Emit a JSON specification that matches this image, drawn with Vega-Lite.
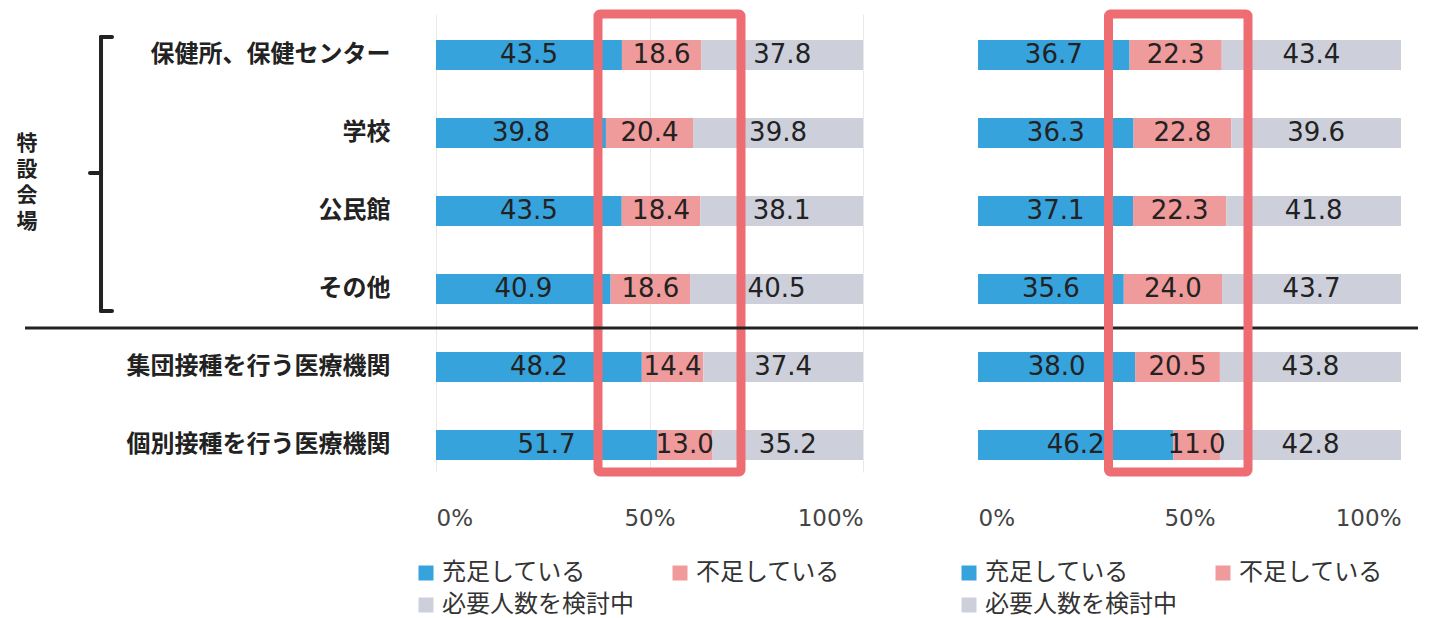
{
  "$schema": "https://vega.github.io/schema/vega-lite/v6.json",
  "width": 1433,
  "height": 458,
  "autosize": {"type": "none"},
  "padding": {"left": 0, "right": 0, "top": 14, "bottom": 146},
  "background": "white",
  "config": {
    "view": {"stroke": null},
    "axisX": {"labelFont": "DejaVu Sans", "labelFontSize": 23, "labelColor": "#444", "labelPadding": 35, "ticks": false, "domain": false, "grid": true, "gridColor": "#e9e9e9", "gridWidth": 1, "title": null, "format": ".0%", "orient": "bottom"},
    "axisY": {"labelFont": "Noto Sans CJK JP", "labelFontSize": 24, "labelFontWeight": "bold", "labelColor": "#222", "labelLimit": 500, "labelPadding": 0, "offset": -390, "ticks": false, "domain": false, "grid": false, "title": null},
    "legend": {"orient": "none", "title": null, "columns": 2, "columnPadding": 34, "rowPadding": 8, "padding": 0, "symbolType": "square", "symbolSize": 225, "symbolStrokeWidth": 0, "labelFont": "Noto Sans CJK JP", "labelFontSize": 24, "labelColor": "#333", "labelOffset": 4, "labelLimit": 400}
  },
  "datasets": {
    "L": [
      {"place": "保健所、保健センター", "status": "充足している", "pct": 43.5, "k": 1},
      {"place": "保健所、保健センター", "status": "不足している", "pct": 18.6, "k": 2},
      {"place": "保健所、保健センター", "status": "必要人数を検討中", "pct": 37.8, "k": 3},
      {"place": "学校", "status": "充足している", "pct": 39.8, "k": 1},
      {"place": "学校", "status": "不足している", "pct": 20.4, "k": 2},
      {"place": "学校", "status": "必要人数を検討中", "pct": 39.8, "k": 3},
      {"place": "公民館", "status": "充足している", "pct": 43.5, "k": 1},
      {"place": "公民館", "status": "不足している", "pct": 18.4, "k": 2},
      {"place": "公民館", "status": "必要人数を検討中", "pct": 38.1, "k": 3},
      {"place": "その他", "status": "充足している", "pct": 40.9, "k": 1},
      {"place": "その他", "status": "不足している", "pct": 18.6, "k": 2},
      {"place": "その他", "status": "必要人数を検討中", "pct": 40.5, "k": 3},
      {"place": "集団接種を行う医療機関", "status": "充足している", "pct": 48.2, "k": 1},
      {"place": "集団接種を行う医療機関", "status": "不足している", "pct": 14.4, "k": 2},
      {"place": "集団接種を行う医療機関", "status": "必要人数を検討中", "pct": 37.4, "k": 3},
      {"place": "個別接種を行う医療機関", "status": "充足している", "pct": 51.7, "k": 1},
      {"place": "個別接種を行う医療機関", "status": "不足している", "pct": 13.0, "k": 2},
      {"place": "個別接種を行う医療機関", "status": "必要人数を検討中", "pct": 35.2, "k": 3}
    ],
    "R": [
      {"place": "保健所、保健センター", "status": "充足している", "pct": 36.7, "k": 1},
      {"place": "保健所、保健センター", "status": "不足している", "pct": 22.3, "k": 2},
      {"place": "保健所、保健センター", "status": "必要人数を検討中", "pct": 43.4, "k": 3},
      {"place": "学校", "status": "充足している", "pct": 36.3, "k": 1},
      {"place": "学校", "status": "不足している", "pct": 22.8, "k": 2},
      {"place": "学校", "status": "必要人数を検討中", "pct": 39.6, "k": 3},
      {"place": "公民館", "status": "充足している", "pct": 37.1, "k": 1},
      {"place": "公民館", "status": "不足している", "pct": 22.3, "k": 2},
      {"place": "公民館", "status": "必要人数を検討中", "pct": 41.8, "k": 3},
      {"place": "その他", "status": "充足している", "pct": 35.6, "k": 1},
      {"place": "その他", "status": "不足している", "pct": 24.0, "k": 2},
      {"place": "その他", "status": "必要人数を検討中", "pct": 43.7, "k": 3},
      {"place": "集団接種を行う医療機関", "status": "充足している", "pct": 38.0, "k": 1},
      {"place": "集団接種を行う医療機関", "status": "不足している", "pct": 20.5, "k": 2},
      {"place": "集団接種を行う医療機関", "status": "必要人数を検討中", "pct": 43.8, "k": 3},
      {"place": "個別接種を行う医療機関", "status": "充足している", "pct": 46.2, "k": 1},
      {"place": "個別接種を行う医療機関", "status": "不足している", "pct": 11.0, "k": 2},
      {"place": "個別接種を行う医療機関", "status": "必要人数を検討中", "pct": 42.8, "k": 3}
    ]
  },
  "layer": [
    {
      "data": {"name": "L"},
      "encoding": {
        "y": {"field": "place", "type": "nominal", "scale": {"domain": ["保健所、保健センター", "学校", "公民館", "その他", "集団接種を行う医療機関", "個別接種を行う医療機関"], "paddingInner": 0.615, "paddingOuter": 0.2436, "align": 0.684}}
      },
      "layer": [
        {
          "mark": {"type": "bar"},
          "encoding": {
            "x": {"field": "pct", "type": "quantitative", "stack": "normalize", "scale": {"domain": [0, 1], "range": [436, 863]}, "axis": {"values": [0, 0.5, 1], "orient": "bottom"}},
            "color": {"field": "status", "type": "nominal", "scale": {"domain": ["充足している", "必要人数を検討中", "不足している"], "range": ["#36a3dd", "#cdd0da", "#ef9a9b"]}, "legend": {"legendX": 414, "legendY": 547}},
            "order": {"field": "k", "type": "quantitative"}
          }
        },
        {
          "mark": {"type": "text", "font": "DejaVu Sans", "fontSize": 26, "color": "#222", "baseline": "middle"},
          "encoding": {
            "x": {"field": "pct", "type": "quantitative", "stack": "normalize", "bandPosition": 0.5},
            "detail": {"field": "status"},
            "order": {"field": "k", "type": "quantitative"},
            "text": {"field": "pct", "type": "quantitative", "format": ".1f"}
          }
        },
        {
          "data": {"values": [{}]},
          "mark": {"type": "rect", "fill": "transparent", "stroke": "#ee6d72", "strokeWidth": 9, "cornerRadius": 2},
          "encoding": {"x": {"datum": 0.3794, "type": "quantitative"}, "x2": {"datum": 0.7143}, "y": null}
        },
        {
          "data": {"values": [{}]},
          "mark": {"type": "rule", "color": "#222", "strokeWidth": 3, "yOffset": 39},
          "encoding": {"x": {"datum": -0.9625, "type": "quantitative"}, "x2": {"datum": 2.2998}, "y": {"datum": "その他"}}
        },
        {
          "data": {"values": [{}]},
          "mark": {"type": "rule", "color": "#222", "strokeWidth": 4, "strokeCap": "round", "yOffset": -18, "y2Offset": 22},
          "encoding": {"x": {"datum": -0.7845, "type": "quantitative"}, "y": {"datum": "保健所、保健センター"}, "y2": {"datum": "その他"}}
        },
        {
          "data": {"values": [{}]},
          "mark": {"type": "rule", "color": "#222", "strokeWidth": 4, "strokeCap": "round", "yOffset": -18},
          "encoding": {"x": {"datum": -0.7845, "type": "quantitative"}, "x2": {"datum": -0.7588}, "y": {"datum": "保健所、保健センター"}}
        },
        {
          "data": {"values": [{}]},
          "mark": {"type": "rule", "color": "#222", "strokeWidth": 4, "strokeCap": "round", "yOffset": 22},
          "encoding": {"x": {"datum": -0.7845, "type": "quantitative"}, "x2": {"datum": -0.7588}, "y": {"datum": "その他"}}
        },
        {
          "data": {"values": [{}]},
          "mark": {"type": "rule", "color": "#222", "strokeWidth": 4, "strokeCap": "round", "yOffset": 40},
          "encoding": {"x": {"datum": -0.8103, "type": "quantitative"}, "x2": {"datum": -0.7845}, "y": {"datum": "学校"}}
        },
        {
          "data": {"values": [{}]},
          "mark": {"type": "text", "text": ["特", "設", "会", "場"], "font": "Noto Sans CJK JP", "fontSize": 21, "fontWeight": "bold", "lineHeight": 26, "color": "#222", "align": "center", "baseline": "middle", "yOffset": 11},
          "encoding": {"x": {"datum": -0.9578, "type": "quantitative"}, "y": {"datum": "学校"}}
        }
      ]
    },
    {
      "data": {"name": "R"},
      "encoding": {
        "y": {"field": "place", "type": "nominal", "scale": {"domain": ["保健所、保健センター", "学校", "公民館", "その他", "集団接種を行う医療機関", "個別接種を行う医療機関"], "paddingInner": 0.615, "paddingOuter": 0.2436, "align": 0.684}}
      },
      "layer": [
        {
          "mark": {"type": "bar"},
          "encoding": {
            "x": {"field": "pct", "type": "quantitative", "stack": "normalize", "scale": {"domain": [0, 1], "range": [978, 1401]}, "axis": {"values": [0, 0.5, 1], "orient": "bottom"}},
            "color": {"field": "status", "type": "nominal", "scale": {"domain": ["充足している", "必要人数を検討中", "不足している"], "range": ["#36a3dd", "#cdd0da", "#ef9a9b"]}, "legend": {"legendX": 957, "legendY": 547}},
            "order": {"field": "k", "type": "quantitative"}
          }
        },
        {
          "mark": {"type": "text", "font": "DejaVu Sans", "fontSize": 26, "color": "#222", "baseline": "middle"},
          "encoding": {
            "x": {"field": "pct", "type": "quantitative", "stack": "normalize", "bandPosition": 0.5},
            "detail": {"field": "status"},
            "order": {"field": "k", "type": "quantitative"},
            "text": {"field": "pct", "type": "quantitative", "format": ".1f"}
          }
        },
        {
          "data": {"values": [{}]},
          "mark": {"type": "rect", "fill": "transparent", "stroke": "#ee6d72", "strokeWidth": 9, "cornerRadius": 2},
          "encoding": {"x": {"datum": 0.3085, "type": "quantitative"}, "x2": {"datum": 0.6383}, "y": null}
        }
      ]
    }
  ],
  "resolve": {"scale": {"x": "independent", "color": "independent"}, "axis": {"x": "independent"}, "legend": {"color": "independent"}}
}
